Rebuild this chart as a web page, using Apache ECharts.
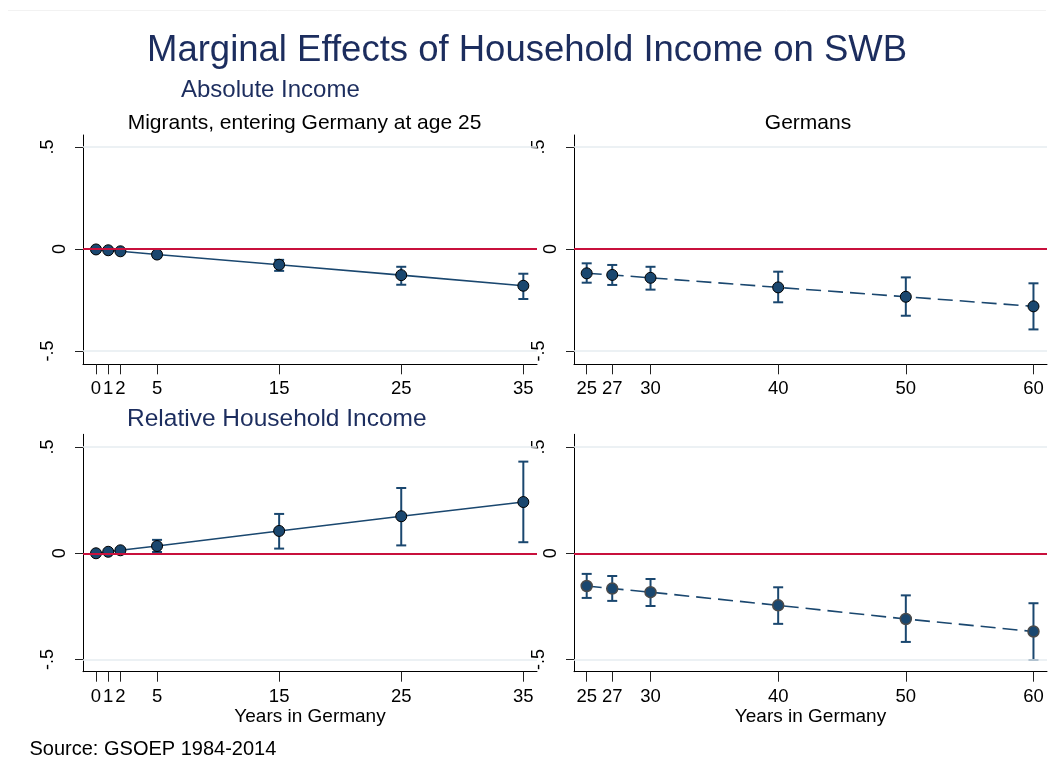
<!DOCTYPE html>
<html>
<head>
<meta charset="utf-8">
<script src="https://cdn.jsdelivr.net/npm/echarts@6/dist/echarts.min.js"></script>
<style>
  html, body { margin: 0; padding: 0; background: #ffffff; }
  #chart { width: 1054px; height: 769px; }
</style>
</head>
<body>
<div id="chart"></div>
<script>
// Years since arrival (migrants) and age (Germans)
const migrantYears = [0, 1, 2, 5, 15, 25, 35];
const germanAges = [25, 27, 30, 40, 50, 60];

// Absolute income: marginal effect and 95% interval
const migAbsEst = [-0.002, -0.006, -0.011, -0.027, -0.077, -0.128, -0.180];
const migAbsLo  = [-0.004, -0.010, -0.017, -0.040, -0.107, -0.175, -0.245];
const migAbsHi  = [ 0.000, -0.002, -0.005, -0.014, -0.053, -0.087, -0.121];

const gerAbsEst = [-0.119, -0.127, -0.141, -0.188, -0.234, -0.281];
const gerAbsLo  = [-0.165, -0.176, -0.199, -0.261, -0.327, -0.394];
const gerAbsHi  = [-0.070, -0.078, -0.087, -0.111, -0.139, -0.168];

// Relative household income: marginal effect and 95% interval
const migRelEst = [0.000, 0.007, 0.014, 0.034, 0.105, 0.174, 0.241];
const migRelLo  = [-0.002, 0.002, 0.006, 0.006, 0.022, 0.037, 0.052];
const migRelHi  = [0.002, 0.012, 0.022, 0.063, 0.185, 0.307, 0.431];

const gerRelEst = [-0.154, -0.166, -0.183, -0.245, -0.309, -0.368];
const gerRelLo  = [-0.210, -0.224, -0.248, -0.332, -0.417, -0.502];
const gerRelHi  = [-0.097, -0.107, -0.121, -0.160, -0.198, -0.235];

// Tick positions
const migrantTicks = [0, 1, 2, 5, 15, 25, 35];
const germanTicks = [25, 27, 30, 40, 50, 60];
const yTicks = [-0.5, 0, 0.5];

// Text
const mainTitle = 'Marginal Effects of Household Income on SWB';
const rowTitleTop = 'Absolute Income';
const rowTitleBottom = 'Relative Household Income';
const panelTitleLeft = 'Migrants, entering Germany at age 25';
const panelTitleRight = 'Germans';
const xAxisTitle = 'Years in Germany';
const sourceNote = 'Source: GSOEP 1984-2014';

const FONT = "'Liberation Sans', Arial, Helvetica, sans-serif";
const NAVY = '#1a476f';
const TITLE_NAVY = '#1c2d5e';
const RED = '#c8103c';
const GRIDLINE = '#e6edf0';

const chart = echarts.init(document.getElementById('chart'), null, { renderer: 'canvas' });

const grids = [
  { left: 83,  top: 135,   width: 454, height: 229.3 },
  { left: 574, top: 135,   width: 473, height: 229.3 },
  { left: 83,  top: 434.3, width: 454, height: 237.4 },
  { left: 574, top: 434.3, width: 473, height: 237.4 }
];

function makeX(gridIndex, min, max, ticks, named) {
  return {
    type: 'value', gridIndex, min, max,
    axisLine: { show: true, onZero: false, lineStyle: { color: '#000', width: 1 } },
    axisTick: { show: true, customValues: ticks, length: 10, lineStyle: { color: '#222', width: 1 } },
    axisLabel: { customValues: ticks, margin: 15.5, fontSize: 18.5, color: '#000', fontFamily: FONT },
    splitLine: { show: false },
    name: named ? xAxisTitle : '',
    nameLocation: 'middle',
    nameGap: 36,
    nameTextStyle: { fontSize: 19, color: '#000', fontFamily: FONT }
  };
}

function yLabel(v) {
  const s = String(v).replace('0.', '.');
  return v === 0 ? '{z|' + s + '}' : '{o|' + s + '}';
}

function makeY(gridIndex, min, max) {
  return {
    type: 'value', gridIndex, min, max,
    axisLine: { show: true, onZero: false, lineStyle: { color: '#000', width: 1 } },
    axisTick: { show: true, customValues: yTicks, length: 8, lineStyle: { color: '#222', width: 1 } },
    axisLabel: {
      customValues: yTicks, rotate: 90, margin: 14,
      formatter: yLabel,
      rich: {
        z: { fontSize: 18, color: '#000', fontFamily: FONT },
        o: { fontSize: 18, color: '#000', fontFamily: FONT, padding: [0, 0, 12, 0] }
      }
    },
    splitLine: { show: false }
  };
}

// Reference lines: light grid at +/-.5 and the zero line
function refSeries(idx) {
  return {
    type: 'line', xAxisIndex: idx, yAxisIndex: idx, data: [], z: 1, silent: true,
    markLine: {
      silent: true, symbol: 'none', animation: false,
      label: { show: false },
      data: [
        { yAxis: 0.5, lineStyle: { color: GRIDLINE, width: 1.5, type: 'solid' } },
        { yAxis: -0.5, lineStyle: { color: GRIDLINE, width: 1.5, type: 'solid' } },
        { yAxis: 0, lineStyle: { color: RED, width: 2, type: 'solid' } }
      ]
    }
  };
}

function zip3(x, a, b) { return x.map((v, i) => [v, a[i], b[i]]); }
function zip2(x, a) { return x.map((v, i) => [v, a[i]]); }

// Capped confidence intervals
function ciSeries(idx, xs, lo, hi) {
  return {
    type: 'custom', xAxisIndex: idx, yAxisIndex: idx, z: 2, silent: true,
    data: zip3(xs, lo, hi),
    renderItem: function (params, api) {
      const x = api.value(0);
      const pLo = api.coord([x, api.value(1)]);
      const pHi = api.coord([x, api.value(2)]);
      const cap = 5;
      const st = { stroke: NAVY, lineWidth: 2 };
      return {
        type: 'group',
        children: [
          { type: 'line', shape: { x1: pLo[0], y1: pLo[1], x2: pHi[0], y2: pHi[1] }, style: st },
          { type: 'line', shape: { x1: pLo[0] - cap, y1: pLo[1], x2: pLo[0] + cap, y2: pLo[1] }, style: st },
          { type: 'line', shape: { x1: pHi[0] - cap, y1: pHi[1], x2: pHi[0] + cap, y2: pHi[1] }, style: st }
        ]
      };
    }
  };
}

function estSeries(idx, xs, est, dashed, ring, ringWidth) {
  return {
    type: 'line', xAxisIndex: idx, yAxisIndex: idx, z: 3,
    data: zip2(xs, est),
    symbol: 'circle', symbolSize: 11, showSymbol: true,
    lineStyle: { color: NAVY, width: 1.6, type: dashed ? [15, 7] : 'solid' },
    itemStyle: { color: NAVY, borderColor: ring, borderWidth: ringWidth }
  };
}

function titleText(text, opts, size, color) {
  return Object.assign({
    text, padding: 0,
    textStyle: { fontSize: size, fontWeight: 'normal', color, fontFamily: FONT }
  }, opts);
}

const option = {
  backgroundColor: '#ffffff',
  animation: false,
  title: [
    titleText(mainTitle, { left: 147, top: 32 }, 36.5, TITLE_NAVY),
    titleText(rowTitleTop, { left: 181, top: 78 }, 24, TITLE_NAVY),
    titleText(panelTitleLeft, { left: 304.5, textAlign: 'center', top: 112.5 }, 21, '#000'),
    titleText(panelTitleRight, { left: 808, textAlign: 'center', top: 112.5 }, 21, '#000'),
    titleText(rowTitleBottom, { left: 127, top: 406.5 }, 24.5, TITLE_NAVY),
    titleText(sourceNote, { left: 29.5, top: 739.5 }, 20, '#000')
  ],
  graphic: [
    { type: 'line', shape: { x1: 8, y1: 10.5, x2: 1046, y2: 10.5 }, style: { stroke: '#f2f2f2', lineWidth: 1 }, silent: true }
  ],
  grid: grids,
  xAxis: [
    makeX(0, -1.065, 36.12, migrantTicks, false),
    makeX(1, 24.005, 61.06, germanTicks, false),
    makeX(2, -1.065, 36.12, migrantTicks, true),
    makeX(3, 24.005, 61.06, germanTicks, true)
  ],
  yAxis: [
    makeY(0, -0.565, 0.559),
    makeY(1, -0.565, 0.559),
    makeY(2, -0.557, 0.5595),
    makeY(3, -0.557, 0.5595)
  ],
  series: [
    refSeries(0), refSeries(1), refSeries(2), refSeries(3),
    ciSeries(0, migrantYears, migAbsLo, migAbsHi),
    ciSeries(1, germanAges, gerAbsLo, gerAbsHi),
    ciSeries(2, migrantYears, migRelLo, migRelHi),
    ciSeries(3, germanAges, gerRelLo, gerRelHi),
    estSeries(0, migrantYears, migAbsEst, false, '#000', 1),
    estSeries(1, germanAges, gerAbsEst, true, '#000', 1),
    estSeries(2, migrantYears, migRelEst, false, '#000', 1),
    estSeries(3, germanAges, gerRelEst, true, '#4a4a4a', 1.5)
  ]
};

chart.setOption(option);
</script>
</body>
</html>
